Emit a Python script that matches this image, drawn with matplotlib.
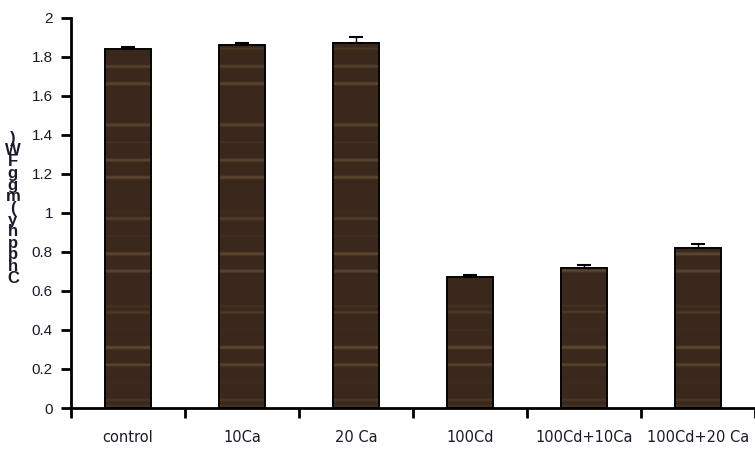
import numpy as np
import matplotlib
matplotlib.use("Agg")
import matplotlib.pyplot as plt
from matplotlib.patches import Rectangle

categories = ["control", "10Ca", "20 Ca", "100Cd", "100Cd+10Ca", "100Cd+20 Ca"]
values = [1.84, 1.86, 1.87, 0.67, 0.72, 0.82]
errors = [0.01, 0.01, 0.03, 0.01, 0.015, 0.02]
yticks = [0, 0.2, 0.4, 0.6, 0.8, 1, 1.2, 1.4, 1.6, 1.8, 2]
ytick_labels = ["0", "0.2", "0.4", "0.6", "0.8", "1", "1.2", "1.4", "1.6", "1.8", "2"]
ylabel_letters = [")", "W", "F", "g", "g", "m", "(", "y", "h", "p", "p", "h", "C"]

plt.rcParams['font.family'] = ['Liberation Sans', 'DejaVu Sans']

fig = plt.figure(figsize=(7.55, 4.53), dpi=100)
ax = fig.add_axes([0.094, 0.0993, 0.906, 0.8614])

x = np.arange(len(categories))
width = 0.4
bars = ax.bar(x, values, width=width, color="#3b2a1d", edgecolor="black",
              linewidth=1.2, zorder=2)

# subtle wood-like texture (deterministic stripes) clipped to each bar
ny = 600
yy = np.linspace(0, 1, ny)
stripe = (0.5 * np.sin(yy * 131.0) + 0.3 * np.sin(yy * 287.0 + 1.3)
          + 0.2 * np.sin(yy * 53.0 + 0.7))
tex = np.zeros((ny, 8, 3))
base = np.array([0.23, 0.16, 0.11])
light = np.array([0.52, 0.42, 0.29])
for i in range(ny):
    t = max(0.0, stripe[i] - 0.45) * 1.1
    tex[i, :, :] = base * (1 - t) + light * t
for b in bars:
    im = ax.imshow(tex, extent=[b.get_x(), b.get_x() + b.get_width(), 0, 2],
                   aspect="auto", origin="lower", zorder=2.1, interpolation="bilinear")
    im.set_clip_path(b)
    r = Rectangle((b.get_x(), 0), b.get_width(), b.get_height(), fill=False,
                  edgecolor="black", linewidth=1.2, zorder=2.2)
    ax.add_patch(r)

ax.errorbar(x, values, yerr=[np.zeros(len(errors)), errors], fmt="none",
            ecolor="black", elinewidth=1.0, capsize=5, capthick=1.5, zorder=3)

ax.set_xlim(-0.5, len(categories) - 0.5)
ax.set_ylim(0, 2)
ax.set_yticks(yticks)
ax.set_yticklabels(ytick_labels, fontsize=11, color="#1a1a2a")
ax.set_xticks(x)
ax.set_xticklabels(categories, fontsize=10.5, color="#1a1a2a", family=['DejaVu Sans'])
ax.set_xticks(np.arange(len(categories) + 1) - 0.5, minor=True)
ax.tick_params(axis="x", which="major", length=0, pad=16)
ax.tick_params(axis="x", which="minor", length=7, width=2, direction="out")
ax.tick_params(axis="y", which="major", length=7, width=2, direction="out", pad=6)

for s in ["top", "right"]:
    ax.spines[s].set_visible(False)
for s in ["left", "bottom"]:
    ax.spines[s].set_linewidth(2)

fig.text(0.017, 0.54, "\n".join(ylabel_letters), fontsize=12, ha="center", va="center",
         linespacing=0.72, color="#1a1a2a", fontweight="semibold")

fig.savefig("out.png", dpi=100)
